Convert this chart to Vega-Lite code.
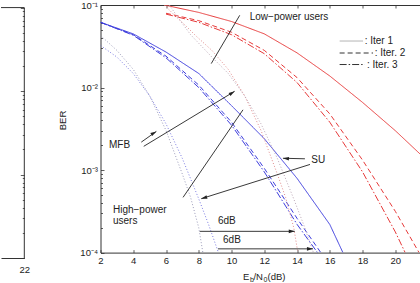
{
  "$schema": "https://vega.github.io/schema/vega-lite/v6.json",
  "padding": 0,
  "spacing": 26.5,
  "config": {
    "view": {"stroke": null},
    "font": "Liberation Sans",
    "axis": {"grid": false, "domainColor": "#333", "domainWidth": 1, "tickColor": "#333", "tickWidth": 0.8, "labelFont": "Liberation Sans", "labelFontSize": 9.5, "labelColor": "#222", "labelFlush": false, "titleFont": "Liberation Sans", "titleFontWeight": "normal", "titleColor": "#222"}
  },
  "datasets": {
    "frame": [
      {"x": 20.58, "x2": 22, "y": 0.1, "y2": 0.1},
      {"x": 22, "x2": 22, "y": 0.0001, "y2": 0.1}
    ],
    "curves": [
      {"s": "hi1", "x": 2, "ber": 0.0617}, {"s": "hi1", "x": 4, "ber": 0.0447}, {"s": "hi1", "x": 6, "ber": 0.0269}, {"s": "hi1", "x": 8, "ber": 0.0148}, {"s": "hi1", "x": 10, "ber": 0.00603}, {"s": "hi1", "x": 12, "ber": 0.0024}, {"s": "hi1", "x": 14, "ber": 0.000794}, {"s": "hi1", "x": 16, "ber": 0.000219}, {"s": "hi1", "x": 16.8, "ber": 0.0001},
      {"s": "hi2", "x": 2, "ber": 0.0617}, {"s": "hi2", "x": 4, "ber": 0.0437}, {"s": "hi2", "x": 6, "ber": 0.024}, {"s": "hi2", "x": 8, "ber": 0.0107}, {"s": "hi2", "x": 10, "ber": 0.0038}, {"s": "hi2", "x": 12, "ber": 0.00105}, {"s": "hi2", "x": 14, "ber": 0.00026}, {"s": "hi2", "x": 15.45, "ber": 0.0001},
      {"s": "hi3", "x": 2, "ber": 0.0617}, {"s": "hi3", "x": 4, "ber": 0.043}, {"s": "hi3", "x": 6, "ber": 0.0229}, {"s": "hi3", "x": 8, "ber": 0.01}, {"s": "hi3", "x": 10, "ber": 0.0035}, {"s": "hi3", "x": 12, "ber": 0.00095}, {"s": "hi3", "x": 14, "ber": 0.00022}, {"s": "hi3", "x": 15.25, "ber": 0.0001},
      {"s": "lo1", "x": 5.9, "ber": 0.1}, {"s": "lo1", "x": 8, "ber": 0.0813}, {"s": "lo1", "x": 10, "ber": 0.0631}, {"s": "lo1", "x": 12, "ber": 0.0447}, {"s": "lo1", "x": 14, "ber": 0.0263}, {"s": "lo1", "x": 16, "ber": 0.0138}, {"s": "lo1", "x": 18, "ber": 0.0066}, {"s": "lo1", "x": 20, "ber": 0.003}, {"s": "lo1", "x": 21.69, "ber": 0.00145},
      {"s": "lo2", "x": 6, "ber": 0.0794}, {"s": "lo2", "x": 8, "ber": 0.0646}, {"s": "lo2", "x": 10, "ber": 0.0468}, {"s": "lo2", "x": 12, "ber": 0.0282}, {"s": "lo2", "x": 14, "ber": 0.0132}, {"s": "lo2", "x": 16, "ber": 0.00479}, {"s": "lo2", "x": 18, "ber": 0.00132}, {"s": "lo2", "x": 20, "ber": 0.000316}, {"s": "lo2", "x": 21.45, "ber": 0.0001},
      {"s": "lo3", "x": 6, "ber": 0.0776}, {"s": "lo3", "x": 8, "ber": 0.0617}, {"s": "lo3", "x": 10, "ber": 0.0437}, {"s": "lo3", "x": 12, "ber": 0.0257}, {"s": "lo3", "x": 14, "ber": 0.0115}, {"s": "lo3", "x": 16, "ber": 0.0038}, {"s": "lo3", "x": 18, "ber": 0.00095}, {"s": "lo3", "x": 20, "ber": 0.000178}, {"s": "lo3", "x": 20.6, "ber": 0.0001},
      {"s": "hiA", "x": 2, "ber": 0.0427}, {"s": "hiA", "x": 3, "ber": 0.0282}, {"s": "hiA", "x": 4, "ber": 0.0166}, {"s": "hiA", "x": 5, "ber": 0.00794}, {"s": "hiA", "x": 6, "ber": 0.00302}, {"s": "hiA", "x": 7, "ber": 0.000891}, {"s": "hiA", "x": 7.5, "ber": 0.000468}, {"s": "hiA", "x": 8, "ber": 0.0002}, {"s": "hiA", "x": 8.25, "ber": 0.0001},
      {"s": "hiB", "x": 2, "ber": 0.0324}, {"s": "hiB", "x": 3, "ber": 0.0234}, {"s": "hiB", "x": 4, "ber": 0.0148}, {"s": "hiB", "x": 5, "ber": 0.00794}, {"s": "hiB", "x": 6, "ber": 0.00363}, {"s": "hiB", "x": 7, "ber": 0.00138}, {"s": "hiB", "x": 8, "ber": 0.000447}, {"s": "hiB", "x": 8.6, "ber": 0.000219}, {"s": "hiB", "x": 9.2, "ber": 0.0001},
      {"s": "loA", "x": 5.9, "ber": 0.1}, {"s": "loA", "x": 6.5, "ber": 0.0759}, {"s": "loA", "x": 7.2, "ber": 0.0562}, {"s": "loA", "x": 7.8, "ber": 0.0427}, {"s": "loA", "x": 8.8, "ber": 0.0282}, {"s": "loA", "x": 9.8, "ber": 0.0166}, {"s": "loA", "x": 10.8, "ber": 0.00794}, {"s": "loA", "x": 11.8, "ber": 0.00302}, {"s": "loA", "x": 12.8, "ber": 0.000891}, {"s": "loA", "x": 13.3, "ber": 0.000468}, {"s": "loA", "x": 13.8, "ber": 0.0002}, {"s": "loA", "x": 14.05, "ber": 0.0001},
      {"s": "loB", "x": 6.2, "ber": 0.1}, {"s": "loB", "x": 6.8, "ber": 0.0676}, {"s": "loB", "x": 7.5, "ber": 0.0437}, {"s": "loB", "x": 8.8, "ber": 0.0234}, {"s": "loB", "x": 9.8, "ber": 0.0148}, {"s": "loB", "x": 10.8, "ber": 0.00794}, {"s": "loB", "x": 11.8, "ber": 0.00363}, {"s": "loB", "x": 12.8, "ber": 0.00138}, {"s": "loB", "x": 13.8, "ber": 0.000447}, {"s": "loB", "x": 14.4, "ber": 0.000219}, {"s": "loB", "x": 15, "ber": 0.0001}
    ],
    "leaders": [
      {"x": 10.5, "y": 0.075, "x2": 8.76, "y2": 0.0195},
      {"x": 7.04, "y": 0.000467, "x2": 10.7, "y2": 0.00537},
      {"x": 4.49, "y": 0.00218, "x2": 5.41, "y2": 0.00294},
      {"x": 4.64, "y": 0.00194, "x2": 10.19, "y2": 0.009},
      {"x": 14.48, "y": 0.00137, "x2": 13.14, "y2": 0.00139},
      {"x": 14.79, "y": 0.00117, "x2": 8.15, "y2": 0.00045},
      {"x": 8.06, "y": 0.000181, "x2": 13.86, "y2": 0.000181},
      {"x": 9.17, "y": 0.000111, "x2": 14.97, "y2": 0.000111}
    ],
    "heads": [
      {"g": "mfb", "x": 5.41, "y": 0.00294},
      {"g": "mfb", "x": 10.19, "y": 0.009},
      {"g": "su1", "x": 13.14, "y": 0.00139},
      {"g": "su2", "x": 8.15, "y": 0.00045},
      {"g": "db", "x": 13.86, "y": 0.000181},
      {"g": "db", "x": 14.97, "y": 0.000111}
    ],
    "notes": [
      {"t": "Low−power users", "x": 11.11, "y": 0.071},
      {"t": "MFB", "x": 2.52, "y": 0.00199},
      {"t": "High−power", "x": 2.76, "y": 0.000327},
      {"t": "users", "x": 2.76, "y": 0.000242},
      {"t": "SU", "x": 14.87, "y": 0.00132},
      {"t": "6dB", "x": 9.17, "y": 0.000239},
      {"t": "6dB", "x": 9.48, "y": 0.000141},
      {"t": ": Iter 1", "x": 18.13, "y": 0.0366},
      {"t": ": Iter. 2", "x": 18.74, "y": 0.0262},
      {"t": ": Iter. 3", "x": 18.27, "y": 0.019}
    ],
    "key": [
      {"s": "hi1", "x": 16.6, "x2": 18.03, "y": 0.0366},
      {"s": "hi2", "x": 16.6, "x2": 18.64, "y": 0.0262},
      {"s": "hi3", "x": 16.6, "x2": 18.13, "y": 0.019}
    ],
    "xtitle": [
      {"t": "E", "x": 10.7, "y": 0.0000502},
      {"t": "/N", "x": 11.34, "y": 0.0000502},
      {"t": "(dB)", "x": 12.2, "y": 0.0000502}
    ],
    "xsub": [
      {"t": "b", "x": 11.13, "y": 0.0000461},
      {"t": "0", "x": 11.95, "y": 0.0000461}
    ]
  },
  "hconcat": [
    {
      "width": 23.3,
      "height": 253,
      "data": {"name": "frame"},
      "mark": {"type": "rule", "color": "#333", "strokeWidth": 1},
      "encoding": {
        "x": {"field": "x", "type": "quantitative", "scale": {"domain": [20.58, 22], "nice": false, "zero": false},
          "axis": {"orient": "bottom", "values": [22], "ticks": false, "labelPadding": 6, "title": null, "domain": true}},
        "x2": {"field": "x2"},
        "y": {"field": "y", "type": "quantitative", "scale": {"type": "log", "domain": [0.0001, 0.1074], "nice": false},
          "axis": {"orient": "right", "domain": false, "labels": false, "title": null,
            "values": [0.0001, 0.0002, 0.0003, 0.0004, 0.0005, 0.0006, 0.0007, 0.0008, 0.0009, 0.001, 0.002, 0.003, 0.004, 0.005, 0.006, 0.007, 0.008, 0.009, 0.01, 0.02, 0.03, 0.04, 0.05, 0.06, 0.07, 0.08, 0.09, 0.1],
            "tickSize": {"condition": {"test": "abs(log(datum.value)/LN10 - round(log(datum.value)/LN10)) < 0.001", "value": -4}, "value": -2}}},
        "y2": {"field": "y2"}
      }
    },
    {
      "width": 322.5,
      "height": 247.6,
      "resolve": {"axis": {"x": "independent", "y": "independent"}},
      "layer": [
        {
          "data": {"name": "curves"},
          "mark": {"type": "line", "strokeWidth": 1, "clip": true},
          "encoding": {
            "x": {"field": "x", "type": "quantitative", "scale": {"domain": [2, 21.69], "nice": false, "zero": false},
              "axis": {"orient": "bottom", "values": [2, 4, 6, 8, 10, 12, 14, 16, 18, 20], "tickSize": -3, "labelPadding": 6.2, "title": null}},
            "y": {"field": "ber", "type": "quantitative", "scale": {"type": "log", "domain": [0.0001, 0.1], "nice": false},
              "axis": {"orient": "left", "title": "BER", "titleFontSize": 9.5, "titleX": -38.5, "titleY": 115, "titleAlign": "center", "titleBaseline": "middle", "titleAngle": -90,
                "values": [0.0001, 0.0002, 0.0003, 0.0004, 0.0005, 0.0006, 0.0007, 0.0008, 0.0009, 0.001, 0.002, 0.003, 0.004, 0.005, 0.006, 0.007, 0.008, 0.009, 0.01, 0.02, 0.03, 0.04, 0.05, 0.06, 0.07, 0.08, 0.09, 0.1],
                "labelExpr": "abs(log(datum.value)/LN10 - round(log(datum.value)/LN10)) < 0.001 ? '10' + (datum.value > 0.05 ? '⁻¹' : datum.value > 0.005 ? '⁻²' : datum.value > 0.0005 ? '⁻³' : '⁻⁴') : ''",
                "labelPadding": 6.5,
                "tickSize": {"condition": {"test": "abs(log(datum.value)/LN10 - round(log(datum.value)/LN10)) < 0.001", "value": -3.5}, "value": -2}}},
            "color": {"field": "s", "type": "nominal", "legend": null,
              "scale": {"domain": ["hi1", "hi2", "hi3", "lo1", "lo2", "lo3", "hiA", "hiB", "loA", "loB"],
                "range": ["#3d3ddc", "#3d3ddc", "#3d3ddc", "#e63a3a", "#e63a3a", "#e63a3a", "#9a9ab8", "#7a7ae0", "#e08a8a", "#b9a3b3"]}},
            "strokeDash": {"field": "s", "type": "nominal", "legend": null,
              "scale": {"domain": ["hi1", "hi2", "hi3", "lo1", "lo2", "lo3", "hiA", "hiB", "loA", "loB"],
                "range": [[1, 0], [5, 3], [7, 2, 1.5, 2], [1, 0], [5, 3], [7, 2, 1.5, 2], [1, 2], [1, 2], [1, 2], [1, 2]]}}
          }
        },
        {
          "data": {"name": "leaders"},
          "mark": {"type": "rule", "color": "#222", "strokeWidth": 0.9},
          "encoding": {
            "x": {"field": "x", "type": "quantitative",
              "axis": {"orient": "top", "values": [2, 4, 6, 8, 10, 12, 14, 16, 18, 20], "tickSize": -3, "labels": false, "title": null}},
            "y": {"field": "y", "type": "quantitative", "axis": null},
            "x2": {"field": "x2"},
            "y2": {"field": "y2"}
          }
        },
        {
          "data": {"name": "heads"},
          "transform": [{"filter": "datum.g == 'mfb'"}],
          "mark": {"type": "point", "shape": "M0,0L-2,-0.6L-2,0.6Z", "size": 36, "filled": true, "color": "#222", "opacity": 1, "angle": 328},
          "encoding": {"x": {"field": "x", "type": "quantitative", "axis": null}, "y": {"field": "y", "type": "quantitative", "axis": null}}
        },
        {
          "data": {"name": "heads"},
          "transform": [{"filter": "datum.g == 'su1'"}],
          "mark": {"type": "point", "shape": "M0,0L-2,-0.6L-2,0.6Z", "size": 36, "filled": true, "color": "#222", "opacity": 1, "angle": 185},
          "encoding": {"x": {"field": "x", "type": "quantitative", "axis": null}, "y": {"field": "y", "type": "quantitative", "axis": null}}
        },
        {
          "data": {"name": "heads"},
          "transform": [{"filter": "datum.g == 'su2'"}],
          "mark": {"type": "point", "shape": "M0,0L-2,-0.6L-2,0.6Z", "size": 36, "filled": true, "color": "#222", "opacity": 1, "angle": 163},
          "encoding": {"x": {"field": "x", "type": "quantitative", "axis": null}, "y": {"field": "y", "type": "quantitative", "axis": null}}
        },
        {
          "data": {"name": "heads"},
          "transform": [{"filter": "datum.g == 'db'"}],
          "mark": {"type": "point", "shape": "M0,0L-2,-0.6L-2,0.6Z", "size": 36, "filled": true, "color": "#222", "opacity": 1, "angle": 0},
          "encoding": {"x": {"field": "x", "type": "quantitative", "axis": null}, "y": {"field": "y", "type": "quantitative", "axis": null}}
        },
        {
          "data": {"name": "key"},
          "transform": [{"filter": "datum.s == 'hi1'"}],
          "mark": {"type": "rule", "strokeWidth": 1, "color": "#b4b4b4"},
          "encoding": {
            "x": {"field": "x", "type": "quantitative", "axis": null},
            "x2": {"field": "x2"},
            "y": {"field": "y", "type": "quantitative", "axis": null}
          }
        },
        {
          "data": {"name": "key"},
          "transform": [{"filter": "datum.s != 'hi1'"}],
          "mark": {"type": "rule", "strokeWidth": 1, "color": "#333333"},
          "encoding": {
            "x": {"field": "x", "type": "quantitative", "axis": null},
            "x2": {"field": "x2"},
            "y": {"field": "y", "type": "quantitative", "axis": null},
            "strokeDash": {"field": "s", "type": "nominal", "legend": null}
          }
        },
        {
          "data": {"name": "notes"},
          "mark": {"type": "text", "align": "left", "baseline": "middle", "fontSize": 10, "color": "#222"},
          "encoding": {"x": {"field": "x", "type": "quantitative", "axis": null}, "y": {"field": "y", "type": "quantitative", "axis": null}, "text": {"field": "t"}}
        },
        {
          "data": {"name": "xtitle"},
          "mark": {"type": "text", "align": "left", "baseline": "middle", "fontSize": 9.5, "color": "#222"},
          "encoding": {"x": {"field": "x", "type": "quantitative", "axis": null}, "y": {"field": "y", "type": "quantitative", "axis": null}, "text": {"field": "t"}}
        },
        {
          "data": {"name": "xsub"},
          "mark": {"type": "text", "align": "left", "baseline": "middle", "fontSize": 7, "color": "#222"},
          "encoding": {"x": {"field": "x", "type": "quantitative", "axis": null}, "y": {"field": "y", "type": "quantitative", "axis": null}, "text": {"field": "t"}}
        }
      ]
    }
  ]
}
